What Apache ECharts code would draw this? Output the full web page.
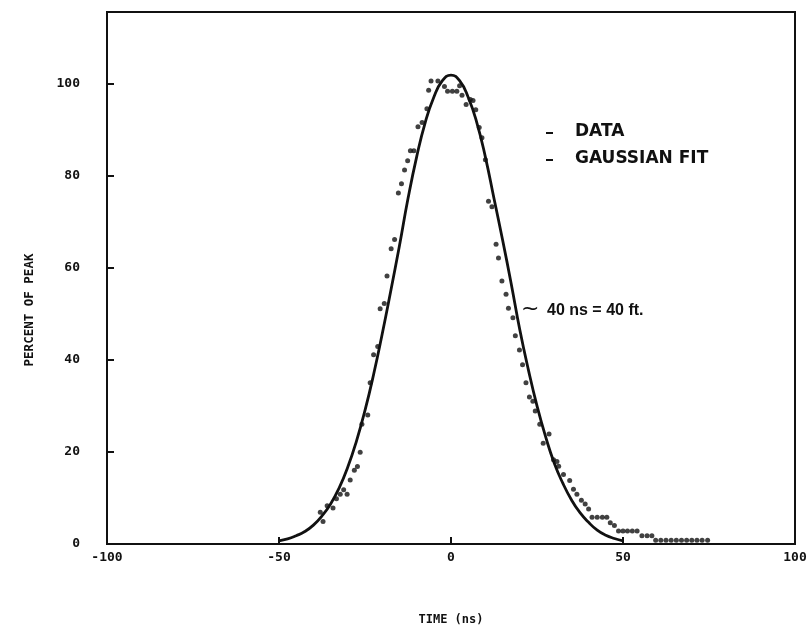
<!DOCTYPE html>
<html>
<head>
<meta charset="utf-8">
<script src="https://cdn.jsdelivr.net/npm/echarts@6/dist/echarts.min.js"></script>
<style>html,body{margin:0;padding:0;background:#fff;}#chart{width:810px;height:631px;}</style>
</head>
<body>
<div id="chart"></div>
<script>
// Measured data points (time in ns, percent of peak)
const dataX = [-38.0,-37.2,-36.0,-34.3,-33.3,-32.2,-31.2,-30.2,-29.3,-28.1,-27.2,-26.4,-25.9,-24.2,-23.5,-22.5,-21.3,-20.6,-19.4,-18.6,-17.4,-16.4,-15.3,-14.4,-13.5,-12.6,-11.8,-10.8,-9.6,-8.4,-7.0,-6.5,-5.8,-3.8,-1.9,-1.0,0.4,1.7,2.5,3.2,4.4,5.6,6.4,7.2,8.2,9.0,10.0,10.9,11.9,13.1,13.8,14.8,16.0,16.7,18.0,18.7,19.9,20.8,21.8,22.8,23.8,24.5,25.8,26.8,28.5,29.8,30.8,31.3,32.7,34.5,35.6,36.6,37.9,39.0,40.0,41.0,42.5,44.0,45.3,46.3,47.5,48.7,50.0,51.3,52.7,54.1,55.5,57.0,58.4,59.5,61.0,62.5,64.0,65.5,67.0,68.5,70.0,71.5,73.0,74.6];
const dataY = [6.9,4.9,8.3,7.8,9.8,10.8,11.8,10.8,13.9,16.0,16.8,19.9,26.0,28.0,35.0,41.1,42.9,51.1,52.2,58.2,64.1,66.1,76.2,78.2,81.2,83.2,85.4,85.4,90.6,91.5,94.5,98.5,100.5,100.5,99.3,98.3,98.3,98.3,99.5,97.4,95.4,96.5,96.3,94.3,90.4,88.2,83.4,74.4,73.2,65.1,62.1,57.1,54.2,51.2,49.1,45.2,42.1,38.9,35.0,31.9,31.0,28.9,26.0,21.9,23.9,18.3,17.9,16.9,15.1,13.8,11.9,10.8,9.5,8.7,7.6,5.8,5.8,5.8,5.8,4.6,4.0,2.8,2.8,2.8,2.8,2.8,1.8,1.8,1.8,0.8,0.8,0.8,0.8,0.8,0.8,0.8,0.8,0.8,0.8,0.8];
// Gaussian fit curve
const fitX = [-50,-47.5,-45,-42.5,-40,-37.5,-35,-32.5,-30,-27.5,-25,-22.5,-20,-17.5,-15,-12.5,-10,-7.5,-5,-2.5,0,2.5,5,7.5,10,12.5,15,17.5,20,22.5,25,27.5,30,32.5,35,37.5,40,42.5,45,47.5,50];
const fitY = [0.7,1.1,1.8,2.7,4.1,6.1,8.7,12.2,16.7,22.3,29.0,36.8,45.6,55.0,64.7,75.0,84.0,91.5,97.0,100.6,101.8,100.6,97.0,91.5,84.0,75.0,66.0,56.5,46.5,37.8,30.0,23.3,17.6,13.2,9.6,6.8,4.7,3.0,1.9,1.2,0.7];
const xTicks = [-100,-50,0,50,100];
const yTicks = [0,20,40,60,80,100];
const legendLabels = ['DATA','GAUSSIAN FIT'];
const noteText = '40 ns = 40 ft.';
const xTitle = 'TIME (ns)';
const yTitle = 'PERCENT OF PEAK';

const chart = echarts.init(document.getElementById('chart'), null, {renderer:'canvas'});
const tickFont = {fontFamily:'DejaVu Sans Mono', fontWeight:'bold', fontSize:13, color:'#111'};
chart.setOption({
  animation:false,
  backgroundColor:'#fff',
  grid:{left:107, right:15, top:12, bottom:80.5, show:true, borderColor:'#111', borderWidth:2, backgroundColor:'transparent'},
  xAxis:{
    type:'value', min:xTicks[0], max:xTicks[xTicks.length-1], interval:50,
    name:xTitle, nameLocation:'middle', nameGap:70,
    nameTextStyle:{fontFamily:'DejaVu Sans Mono', fontWeight:'bold', fontSize:12, color:'#111'},
    axisLine:{show:true, onZero:false, lineStyle:{color:'#111', width:2}},
    axisTick:{show:true, inside:true, length:7, lineStyle:{color:'#111', width:2}},
    axisLabel:Object.assign({margin:7}, tickFont),
    splitLine:{show:false}
  },
  yAxis:{
    type:'value', min:0, max:115.5, interval:20,
    axisLine:{show:true, onZero:false, lineStyle:{color:'#111', width:2}},
    axisTick:{show:true, inside:true, length:7, lineStyle:{color:'#111', width:2}},
    axisLabel:Object.assign({margin:27, formatter:function(v){return yTicks.indexOf(v)>=0 ? String(v) : '';}}, tickFont),
    splitLine:{show:false}
  },
  series:[
    {type:'line', data:fitX.map((x,i)=>[x,fitY[i]]), smooth:true, showSymbol:false, symbol:'none',
     lineStyle:{color:'#111', width:2.8}, z:2},
    {type:'scatter', data:dataX.map((x,i)=>[x,dataY[i]]), symbol:'circle', symbolSize:5,
     itemStyle:{color:'#111'}, z:3}
  ],
  graphic:[
    {type:'text', x:30, y:310, rotation:Math.PI/2, style:{text:yTitle, fontFamily:'DejaVu Sans Mono', fontWeight:'bold', fontSize:12.5, fill:'#111', align:'center', verticalAlign:'middle'}},
    {type:'rect', shape:{x:546, y:132, width:7, height:2}, style:{fill:'#111'}},
    {type:'rect', shape:{x:546, y:159, width:7, height:2}, style:{fill:'#111'}},
    {type:'text', x:575, y:132, style:{text:legendLabels[0], fontFamily:'DejaVu Sans', fontWeight:'bold', fontSize:17, fill:'#111', verticalAlign:'middle'}},
    {type:'text', x:575, y:159, style:{text:legendLabels[1], fontFamily:'DejaVu Sans', fontWeight:'bold', fontSize:17, fill:'#111', verticalAlign:'middle'}},
    {type:'text', x:521, y:309, style:{text:'~', fontFamily:'DejaVu Sans', fontSize:22, fill:'#111', verticalAlign:'middle'}},
    {type:'text', x:547, y:311, style:{text:noteText, fontFamily:'Liberation Sans', fontWeight:'bold', fontSize:16, fill:'#111', verticalAlign:'middle'}}
  ]
});
</script>
</body>
</html>
